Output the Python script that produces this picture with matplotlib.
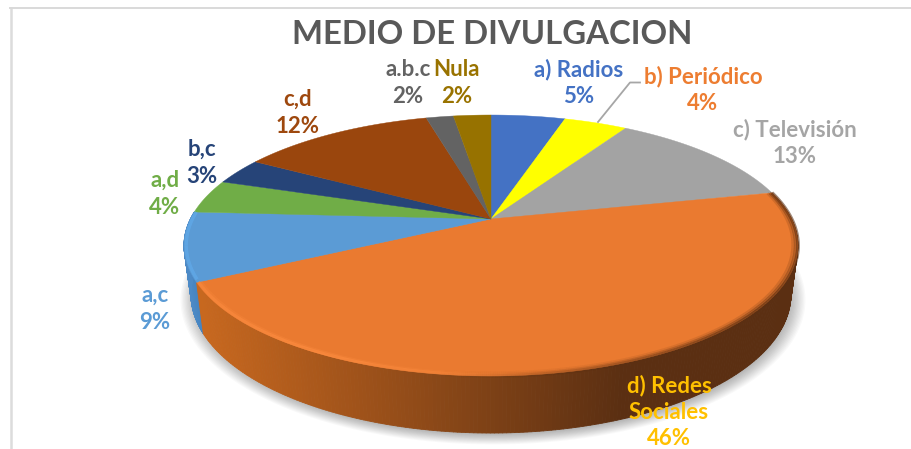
import numpy as np
import matplotlib
matplotlib.use("Agg")
import matplotlib.pyplot as plt
from matplotlib.collections import PolyCollection, LineCollection
from matplotlib.colors import to_rgb

TITLE = "MEDIO DE DIVULGACION"
categories = ["a) Radios", "b) Periódico", "c) Televisión", "d) Redes\nSociales", "a,c", "a,d", "b,c", "c,d", "a.b.c", "Nula"]
values = [4.75, 4.05, 12.7, 45.9, 8.5, 4.2, 3.3, 12.45, 1.75, 2.4]
pct_labels = ["5%", "4%", "13%", "46%", "9%", "4%", "3%", "12%", "2%", "2%"]
slice_colors = ["#4472c4", "#ffff00", "#a3a3a3", "#ea7a30", "#5b9bd5", "#70ad47", "#264478", "#9a460d", "#636363", "#977200"]
label_colors = ["#4472c4", "#ed7d31", "#a5a5a5", "#ffc000", "#5b9bd5", "#70ad47", "#264478", "#9e480e", "#636363", "#997300"]
label_xy = [(579, 83), (703, 90), (795, 143), (669, 412), (155, 309), (165, 194), (202, 163), (298, 113), (408, 83), (457, 83)]

CX, K = 491.0, 0.203
TOP = dict(A=300.6, B=125.1, Y=219.0)
LOW = dict(A=293.7, B=132.8, Y=266.4)


def project(theta, d, scale=1.0):
    u, v = np.sin(theta) * scale, np.cos(theta) * scale
    w = 1 + K * v
    return CX + d["A"] * u / w, d["Y"] - d["B"] * v / w


fig = plt.figure(figsize=(9.12, 4.49), dpi=100)
ax = fig.add_axes([0, 0, 1, 1])
ax.set_xlim(0, 912)
ax.set_ylim(449, 0)
ax.axis("off")

# chart frame
ax.plot([10.7, 10.7], [7, 449], color="#dcdcdc", lw=1.8, zorder=1, solid_capstyle="butt")
ax.plot([9.5, 912], [8, 8], color="#d9d9d9", lw=1.4, zorder=1, solid_capstyle="butt")

edges = np.radians(np.concatenate([[0], np.cumsum(values)]) * 3.6)
full = np.linspace(0, 2 * np.pi, 361)

# soft shadow under the pie
for i in range(14):
    sc = 1.04 - i * 0.004
    sx, sy = project(full, LOW, sc)
    ax.fill(sx + 2, sy + 3, color="#000000", alpha=0.022, lw=0, zorder=2)


# side wall, visible for the front of the pie
def wall(t0, t1, bright, dark, x_bright, x_dark):
    th = np.linspace(t0, t1, 260)
    x0, y0 = project(th, TOP)
    x1, y1 = project(th, LOW)
    polys, cols = [], []
    b, d = np.array(to_rgb(bright)), np.array(to_rgb(dark))
    for i in range(len(th) - 1):
        polys.append([(x0[i], y0[i]), (x0[i + 1], y0[i + 1]), (x1[i + 1], y1[i + 1]), (x1[i], y1[i])])
        f = np.clip((x0[i] - x_bright) / (x_dark - x_bright), 0, 1)
        cols.append(b + (d - b) * f)
    ax.add_collection(PolyCollection(polys, facecolors=cols, edgecolors=cols, linewidths=0.6, zorder=3))


wall(edges[4], edges[5], "#4d8ac6", "#3f7fbc", 185, 205)
wall(edges[3], edges[4], "#c8681f", "#5b2f12", 200, 625)

# top faces
for i, col in enumerate(slice_colors):
    th = np.linspace(edges[i], edges[i + 1], 120)
    x, y = project(th, TOP)
    ax.fill(np.r_[CX, x], np.r_[TOP["Y"], y], color=col, lw=0.3, zorder=4)


# bevel on the rim
def rim(t0, t1, col, scale, lw, alpha0, alpha1):
    th = np.linspace(t0, t1, 200)
    x, y = project(th, TOP, scale)
    pts = np.column_stack([x, y])
    segs = np.stack([pts[:-1], pts[1:]], axis=1)
    rgb = np.tile(to_rgb(col), (len(segs), 1))
    cols = np.column_stack([rgb, np.linspace(alpha0, alpha1, len(segs))])
    ax.add_collection(LineCollection(segs, colors=cols, linewidths=lw, zorder=5, capstyle="butt"))


for scale, lw, alpha in [(1.0, 2.6, 0.7), (0.992, 2.2, 0.4), (0.984, 2.2, 0.18)]:
    rim(edges[3], np.radians(130), "#5b2f12", scale, lw, alpha, alpha)
    rim(np.radians(130), np.radians(188), "#5b2f12", scale, lw, alpha, 0)
for scale, lw, alpha in [(0.994, 2.2, 0.9), (0.986, 1.8, 0.35)]:
    rim(np.radians(172), np.radians(205), "#fb8a3e", scale, lw, 0, alpha)
    rim(np.radians(205), edges[4], "#fb8a3e", scale, lw, alpha, alpha)
rim(edges[4] + 0.02, edges[5], "#62acec", 0.993, 2.4, 0.9, 0.9)

# leader line for b)
ax.plot([598, 630, 640], [122, 82.5, 82.5], color="#a6a6a6", lw=1.3, zorder=6)

# labels
for name, pct, (lx, ly), col in zip(categories, pct_labels, label_xy, label_colors):
    ax.text(lx, ly, f"{name}\n{pct}", color=col, fontsize=16, family="Lato", weight="bold",
            ha="center", va="center", linespacing=1.33, zorder=7)

ax.text(492, 35, TITLE, color="#595959", fontsize=23.7, family="Lato", weight="bold",
        ha="center", va="center", zorder=7)

fig.savefig("out.png", dpi=100)
